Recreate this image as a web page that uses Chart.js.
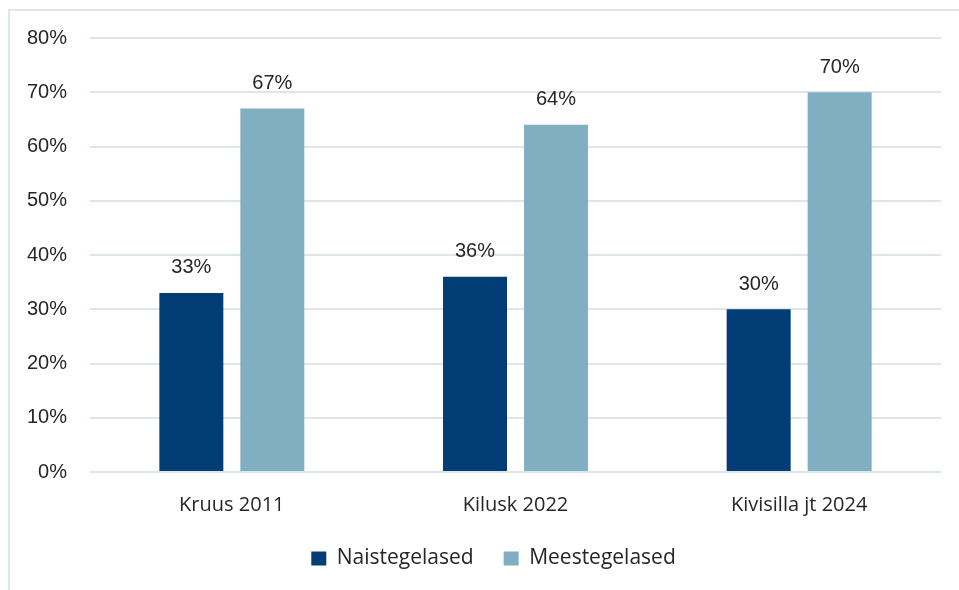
<!DOCTYPE html>
<html>
<head>
<meta charset="utf-8">
<script src="https://cdn.jsdelivr.net/npm/chart.js@4.4.1/dist/chart.umd.min.js"></script>
<style>
  html, body { margin: 0; padding: 0; background: #ffffff; }
  #wrap { position: relative; width: 959px; height: 590px; overflow: hidden; }
  #frame { position: absolute; left: 8px; top: 9px; width: 1000px; height: 700px;
           border-left: 2px solid #dde6e9; border-top: 2px solid #dde6e9; box-sizing: border-box; }
  #c { position: absolute; left: 0; top: 0; }
</style>
</head>
<body>
<div id="wrap">
  <div id="frame"></div>
  <canvas id="c" width="959" height="590"></canvas>
</div>
<script>
const categories = ["Kruus 2011", "Kilusk 2022", "Kivisilla jt 2024"];
const seriesNames = ["Naistegelased", "Meestegelased"];
const naistegelased = [33, 36, 30];
const meestegelased = [67, 64, 70];
const yTicks = [0, 10, 20, 30, 40, 50, 60, 70, 80];

const colors = ["#023d76", "#81afc2"];
const textColor = "#262626";
const gridColor = "#dde6e9";

const dataLabels = {
  id: "dataLabels",
  afterDatasetsDraw(chart) {
    const ctx = chart.ctx;
    ctx.save();
    ctx.font = "20px 'Liberation Sans', Arial, sans-serif";
    ctx.fillStyle = textColor;
    ctx.textAlign = "center";
    ctx.textBaseline = "middle";
    chart.data.datasets.forEach((ds, i) => {
      const meta = chart.getDatasetMeta(i);
      meta.data.forEach((el, j) => {
        ctx.fillText(ds.data[j] + "%", el.x, el.y - 25);
      });
    });
    ctx.restore();
  }
};

const legendShift = {
  id: "legendShift",
  afterLayout(chart) {
    if (chart.legend) {
      chart.legend.left += 18;
      chart.legend.right += 18;
    }
  }
};

new Chart(document.getElementById("c"), {
  type: "bar",
  data: {
    labels: categories,
    datasets: [
      { label: seriesNames[0], data: naistegelased, backgroundColor: colors[0] },
      { label: seriesNames[1], data: meestegelased, backgroundColor: colors[1] }
    ]
  },
  options: {
    responsive: false,
    devicePixelRatio: 1,
    animation: false,
    categoryPercentage: 0.571,
    barPercentage: 0.79,
    layout: { padding: { left: 10, right: 18, top: 38, bottom: 11 } },
    plugins: {
      tooltip: { enabled: false },
      legend: {
        position: "bottom",
        labels: {
          boxWidth: 15,
          boxHeight: 14,
          padding: 30,
          color: textColor,
          font: { family: "'Open Sans', sans-serif", size: 21 }
        }
      }
    },
    scales: {
      x: {
        grid: { display: false, drawTicks: false },
        border: { display: false },
        ticks: {
          color: textColor,
          padding: 21,
          font: { family: "'Open Sans', sans-serif", size: 20 }
        },
        afterFit(scale) { scale.height = 46; }
      },
      y: {
        min: yTicks[0],
        max: yTicks[yTicks.length - 1],
        grid: { color: gridColor, lineWidth: 2, drawTicks: false },
        border: { display: false },
        afterBuildTicks(scale) { scale.ticks = yTicks.map(v => ({ value: v })); },
        ticks: {
          color: textColor,
          padding: 23,
          font: { family: "'Liberation Sans', Arial, sans-serif", size: 20 },
          callback: v => v + "%"
        },
        afterFit(scale) { scale.width = 80; }
      }
    }
  },
  plugins: [dataLabels, legendShift]
});
</script>
</body>
</html>
